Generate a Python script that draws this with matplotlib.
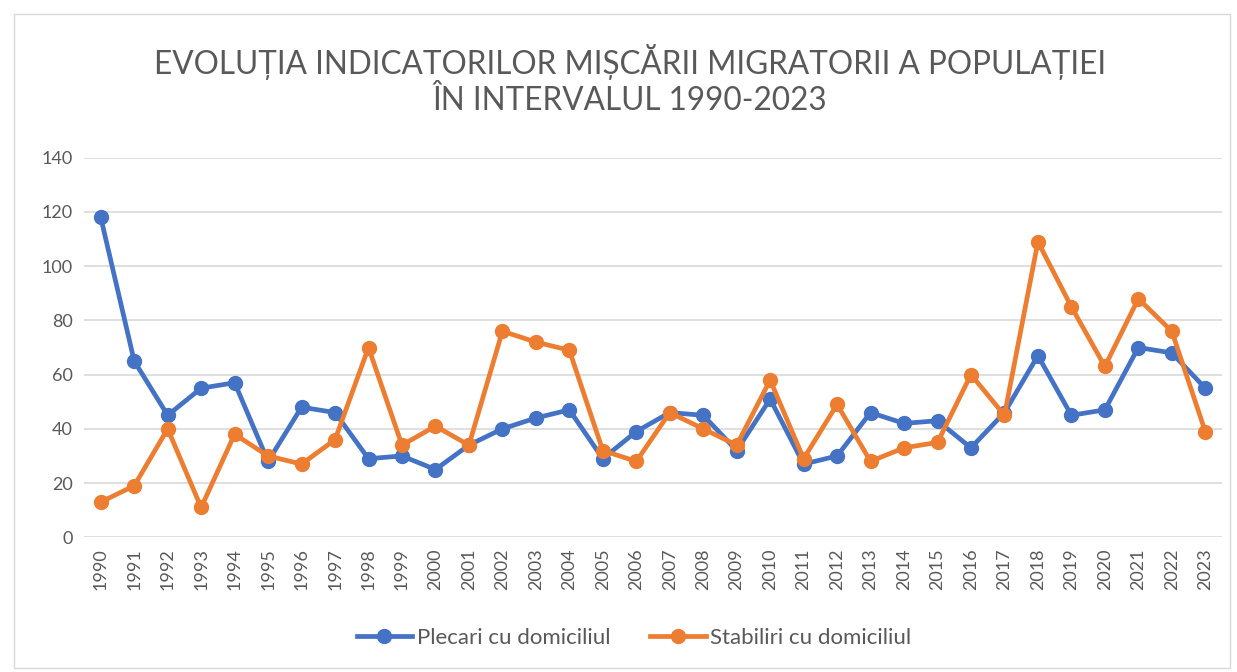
import numpy as np
import matplotlib.pyplot as plt

years = [str(y) for y in range(1990, 2024)]
plecari = [118, 65, 45, 55, 57, 28, 48, 46, 29, 30, 25, 34, 40, 44, 47, 29, 39, 46, 45, 32,
           51, 27, 30, 46, 42, 43, 33, 46, 67, 45, 47, 70, 68, 55]
stabiliri = [13, 19, 40, 11, 38, 30, 27, 36, 70, 34, 41, 34, 76, 72, 69, 32, 28, 46, 40, 34,
             58, 29, 49, 28, 33, 35, 60, 45, 109, 85, 63, 88, 76, 39]

plt.rcParams['font.family'] = ['Lato', 'DejaVu Sans']

W, H = 1237, 672
fig = plt.figure(figsize=(W / 100, H / 100), dpi=100)
ax = fig.add_axes([84 / W, 1 - 537.3 / H, (1222 - 84) / W, (537.3 - 157.7) / H])

x = np.arange(len(years))
ax.plot(x, plecari, color='#4472C4', lw=3.4, marker='o', ms=10, label='Plecari cu domiciliul', zorder=3)
ax.plot(x, stabiliri, color='#ED7D31', lw=3.4, marker='o', ms=10, label='Stabiliri cu domiciliul', zorder=4)

ax.set_xlim(-0.5, len(years) - 0.5)
ax.set_ylim(0, 140)
ax.set_yticks(range(0, 141, 20))
ax.set_xticks(x)
ax.set_xticklabels(years, rotation=90)
ax.grid(axis='y', color='#d9d9d9', lw=1.2)
ax.set_axisbelow(True)
for s in ax.spines.values():
    s.set_visible(False)
ax.tick_params(length=0, labelsize=13, colors='#595959', pad=8)

fig.text(630 / W, 1 - 62 / H, 'EVOLUȚIA INDICATORILOR MIȘCĂRII MIGRATORII A POPULAȚIEI',
         ha='center', va='center', fontsize=22.7, color='#595959')
fig.text(630 / W, 1 - 101 / H, 'ÎN INTERVALUL 1990-2023',
         ha='center', va='center', fontsize=22.7, color='#595959')

fig.legend(loc='center', bbox_to_anchor=(634 / W, 1 - 638 / H), ncol=2, frameon=False,
           fontsize=16, labelcolor='#595959', handlelength=2.5, handletextpad=0.2,
           columnspacing=1.8)

fig.patches.append(plt.Rectangle((14 / W, 1 - 668 / H), (1230 - 14) / W, (668 - 14) / H,
                                 transform=fig.transFigure, fill=False, ec='#d9d9d9', lw=1))

fig.savefig('out.png', dpi=100, facecolor='white')
